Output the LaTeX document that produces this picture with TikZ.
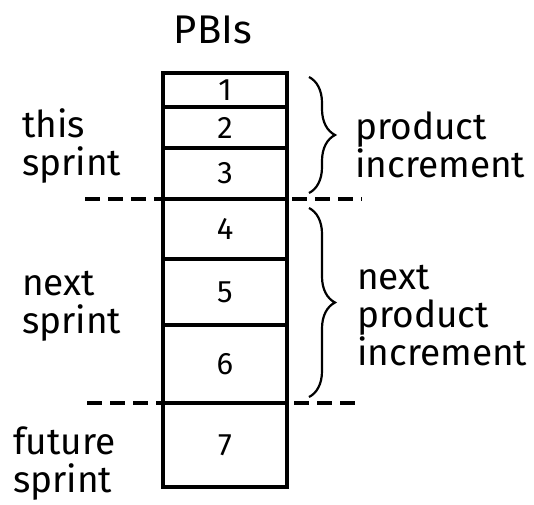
\documentclass[tikz,border=0pt]{standalone}
\usepackage{fontspec}
\setmainfont{Fira Sans}
\usetikzlibrary{positioning, decorations.pathreplacing}
\newcommand{\lbl}{\fontsize{37}{38}\selectfont}

\begin{document}
\begin{tikzpicture}[
  x=1pt, y=-1pt,
  cell/.style={
    draw=black,
    line width=3.2pt,
    minimum width=124pt,
    outer sep=0pt,
    inner sep=0pt,
    font=\fontsize{31}{31}\selectfont,
  },
  note/.style={anchor=base west, align=left, inner sep=0pt, font=\lbl},
  cut/.style={draw=black, line width=3.2pt, dash pattern=on 15pt off 8pt},
  curly/.style={draw=black, line width=2.2pt,
    decorate, decoration={brace, amplitude=26pt}},
]
\useasboundingbox (0,0) rectangle (534,504);

% ---- the stack of PBIs, top to bottom --------------------------------------
\node[cell, minimum height=34pt, anchor=north west] (p1) at (163,73) {1};
\node[cell, minimum height=41pt, below=0pt of p1] (p2) {2};
\node[cell, minimum height=51pt, below=0pt of p2] (p3) {3};
\node[cell, minimum height=60pt, below=0pt of p3] (p4) {4};
\node[cell, minimum height=66pt, below=0pt of p4] (p5) {5};
\node[cell, minimum height=78pt, below=0pt of p5] (p6) {6};
\node[cell, minimum height=84pt, below=0pt of p6] (p7) {7};

\node[anchor=base, inner sep=0pt, font=\fontsize{40}{40}\selectfont]
  (title) at (213,43) {PBIs};

% ---- sprint boundaries -----------------------------------------------------
\draw[cut] ([xshift=-78pt]p3.south west) -- ([xshift=75pt]p3.south east);
\draw[cut] ([xshift=-76pt]p6.south west) -- ([xshift=75pt]p6.south east);

% ---- sprints on the left (anchored on the last line) -----------------------
\node[note] (this)   at (22,175) {this\\sprint};
\node[note] (next)   at (22,333) {next\\sprint};
\node[note] (future) at (13,492) {future\\sprint};

% ---- increments on the right -----------------------------------------------
\draw[curly] ([xshift=22pt,yshift=-4pt]p1.north east)
          -- ([xshift=22pt,yshift=6pt]p3.south east);
\draw[curly] ([xshift=22pt,yshift=-9pt]p4.north east)
          -- ([xshift=22pt,yshift=6pt]p6.south east);

\node[note] (inc)     at (355,177) {product\\increment};
\node[note] (nextinc) at (357,365) {next\\product\\increment};

\end{tikzpicture}
\end{document}
